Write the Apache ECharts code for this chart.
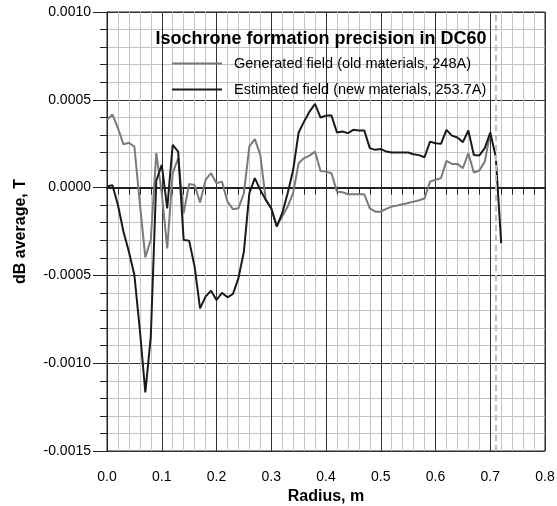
<!DOCTYPE html>
<html>
<head>
<meta charset="utf-8">
<script src="https://cdn.jsdelivr.net/npm/echarts@6/dist/echarts.min.js"></script>
<style>
  html, body { margin: 0; padding: 0; background: #fff; }
  #divChart { width: 557px; height: 506px; }
</style>
</head>
<body>
<div id="divChart"></div>
<script>
var myChart;

// radius, m
var radiusGen = [0.00, 0.01, 0.02, 0.03, 0.04, 0.05, 0.06, 0.07, 0.08, 0.09,
    0.10, 0.11, 0.12, 0.13, 0.14, 0.15, 0.16, 0.17, 0.18, 0.19,
    0.20, 0.21, 0.22, 0.23, 0.24, 0.25, 0.26, 0.27, 0.28, 0.29,
    0.30, 0.31, 0.32, 0.33, 0.34, 0.35, 0.36, 0.37, 0.38, 0.39,
    0.40, 0.41, 0.42, 0.43, 0.44, 0.45, 0.46, 0.47, 0.48, 0.49,
    0.50, 0.51, 0.52, 0.53, 0.54, 0.55, 0.56, 0.57, 0.58, 0.59,
    0.60, 0.61, 0.62, 0.63, 0.64, 0.65, 0.66, 0.67, 0.68, 0.69, 0.70];
// generated field, x1e-4 T
var genField = [3.86, 4.16, 3.39, 2.47, 2.55, 2.34, -0.9, -3.97, -2.98, 1.96,
    -0.3, -3.46, 0.82, 1.68, -1.46, 0.21, 0.15, -0.85, 0.44, 0.82,
    0.25, 0.34, -0.8, -1.23, -1.18, -0.32, 2.34, 2.76, 1.86, -0.7,
    -1.18, -2.18, -1.65, -1.08, -0.3, 1.39, 1.68, 1.82, 2.05, 0.95,
    0.91, 0.82, -0.23, -0.26, -0.38, -0.38, -0.38, -0.38, -1.18, -1.37,
    -1.37, -1.21, -1.08, -1.02, -0.95, -0.88, -0.8, -0.72, -0.62, 0.34,
    0.45, 0.54, 1.52, 1.35, 1.35, 1.1, 1.96, 0.86, 0.97, 1.48, 3.1];

var radiusEst = [0.00, 0.01, 0.02, 0.03, 0.04, 0.05, 0.06, 0.07, 0.08, 0.09,
    0.10, 0.11, 0.12, 0.13, 0.14, 0.15, 0.16, 0.17, 0.18, 0.19,
    0.20, 0.21, 0.22, 0.23, 0.24, 0.25, 0.26, 0.27, 0.28, 0.29,
    0.30, 0.31, 0.32, 0.33, 0.34, 0.35, 0.36, 0.37, 0.38, 0.39,
    0.40, 0.41, 0.42, 0.43, 0.44, 0.45, 0.46, 0.47, 0.48, 0.49,
    0.50, 0.51, 0.52, 0.53, 0.54, 0.55, 0.56, 0.57, 0.58, 0.59,
    0.60, 0.61, 0.62, 0.63, 0.64, 0.65, 0.66, 0.67, 0.68, 0.69,
    0.70, 0.71, 0.72];
// estimated field, x1e-4 T
var estField = [0.06, 0.14, -0.99, -2.5, -3.65, -4.98, -8.11, -11.67, -8.49, 0.39,
    1.29, -1.18, 2.43, 2.05, -2.98, -3.02, -4.5, -6.88, -6.21, -5.87,
    -6.4, -5.99, -6.25, -6.06, -5.17, -3.65, -0.32, 0.54, -0.13, -0.7,
    -1.18, -2.22, -1.46, -0.32, 1.0, 3.14, 3.76, 4.33, 4.77, 3.99,
    4.1, 4.1, 3.14, 3.19, 3.1, 3.29, 3.25, 3.25, 2.25, 2.15,
    2.2, 2.05, 2.0, 2.0, 2.0, 2.0, 1.9, 1.85, 1.73, 2.62,
    2.53, 2.49, 3.29, 2.96, 2.85, 2.59, 3.25, 1.86, 1.83, 2.25,
    3.14, 1.77, -3.17];

var edgeRadius = 0.71;
var seriesNames = ['Generated field (old materials, 248A)', 'Estimated field (new materials, 253.7A)'];

var fontFam = '"Liberation Sans", Arial, sans-serif';

function pairs(xs, ys) {
    var out = [];
    for (var i = 0; i < xs.length; i++) {
        out.push([xs[i], ys[i] * 1e-4]);
    }
    return out;
}

function initChart() {
    myChart = echarts.init(document.getElementById('divChart'));
    var option = {
        animation: false,
        backgroundColor: '#fff',
        title: {
            text: 'Isochrone formation precision in DC60',
            left: 316,
            textAlign: 'center',
            top: 25,
            textStyle: { fontFamily: fontFam, fontSize: 18, fontWeight: 'bold', color: '#000' }
        },
        legend: {
            data: seriesNames,
            orient: 'vertical',
            left: 167,
            top: 51,
            icon: 'rect',
            itemWidth: 50,
            itemHeight: 2,
            itemGap: 11,
            textStyle: { fontFamily: fontFam, fontSize: 14.5, color: '#000', padding: [0, 0, 0, 7] }
        },
        grid: {
            left: 107,
            right: 12,
            top: 12,
            bottom: 55,
            outerBoundsMode: 'none',
            show: true,
            borderColor: '#222',
            borderWidth: 1
        },
        xAxis: {
            type: 'value',
            min: 0,
            max: 0.8,
            interval: 0.1,
            name: 'Radius, m',
            nameLocation: 'middle',
            nameGap: 34,
            nameTextStyle: { fontFamily: fontFam, fontSize: 16, fontWeight: 'bold', color: '#000' },
            axisLine: { show: true, lineStyle: { color: '#222', width: 2 } },
            axisTick: { show: true, length: 12, lineStyle: { color: '#222' } },
            minorTick: { show: true, splitNumber: 5, length: 7, lineStyle: { color: '#222' } },
            axisLabel: {
                fontFamily: fontFam, fontSize: 14, color: '#000', margin: 19,
                formatter: function (v) { return v.toFixed(1); }
            },
            splitLine: { show: true, lineStyle: { color: '#333', width: 1 } },
            minorSplitLine: { show: true, lineStyle: { color: '#c4c4c4', width: 1 } }
        },
        yAxis: {
            type: 'value',
            min: -0.0015,
            max: 0.001,
            interval: 0.0005,
            name: 'dB average, T',
            nameLocation: 'middle',
            nameGap: 78,
            nameRotate: 90,
            nameTextStyle: { fontFamily: fontFam, fontSize: 16, fontWeight: 'bold', color: '#000' },
            axisLine: { show: true, lineStyle: { color: '#222', width: 1 } },
            axisTick: { show: true, length: 14, lineStyle: { color: '#222' } },
            minorTick: { show: true, splitNumber: 5, length: 7, lineStyle: { color: '#222' } },
            axisLabel: {
                fontFamily: fontFam, fontSize: 14, color: '#000', margin: 16,
                formatter: function (v) { return v.toFixed(4); }
            },
            splitLine: { show: true, lineStyle: { color: '#333', width: 1 } },
            minorSplitLine: { show: true, lineStyle: { color: '#c4c4c4', width: 1 } }
        },
        series: [
            {
                name: seriesNames[0],
                type: 'line',
                symbol: 'none',
                data: pairs(radiusGen, genField),
                lineStyle: { color: '#7a7a7a', width: 2 },
                itemStyle: { color: '#7a7a7a' },
                markLine: {
                    silent: true,
                    symbol: 'none',
                    label: { show: false },
                    lineStyle: { color: '#bdbdbd', type: [6, 4], width: 2 },
                    data: [{ xAxis: edgeRadius }]
                },
                z: 3
            },
            {
                name: seriesNames[1],
                type: 'line',
                symbol: 'none',
                data: pairs(radiusEst, estField),
                lineStyle: { color: '#1a1a1a', width: 2 },
                itemStyle: { color: '#1a1a1a' },
                z: 4
            }
        ]
    };
    myChart.setOption(option);
}

initChart();
</script>
</body>
</html>
